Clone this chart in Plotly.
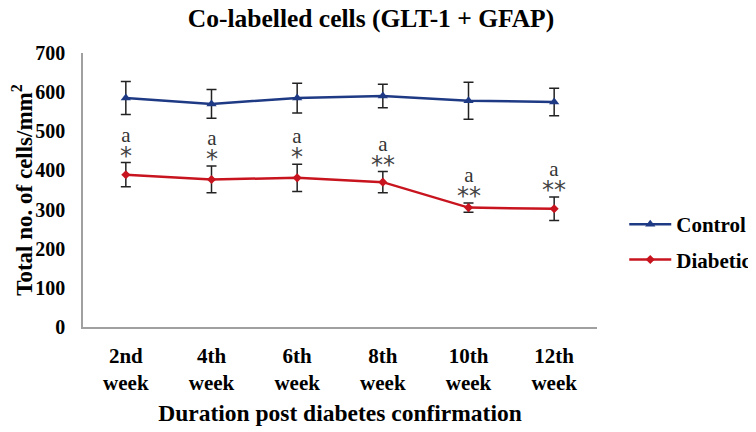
import plotly.graph_objects as go

weeks = ["2nd<br>week", "4th<br>week", "6th<br>week", "8th<br>week", "10th<br>week", "12th<br>week"]
control = [585, 570, 585, 590, 578, 575]
control_err = [42, 37, 38, 30, 47, 35]
diabetic = [389, 377, 381, 370, 305, 302]
diabetic_err = [31, 34, 35, 27, 12, 30]
sig_letters = ["a", "a", "a", "a", "a", "a"]
sig_stars = ["*", "*", "*", "**", "**", "**"]
y_ticks = [0, 100, 200, 300, 400, 500, 600, 700]

SERIF = "Liberation Serif"
BLUE = "#1F3A85"
RED = "#C8141E"
OFF = 8  # page body margin offset of the browser

fig = go.Figure()
fig.add_trace(go.Scatter(
    x=weeks, y=control, name="<b>Control</b>", mode="lines+markers",
    line=dict(color=BLUE, width=2.5),
    marker=dict(symbol="triangle-up", size=9, color=BLUE),
    error_y=dict(type="data", array=control_err, color="#222222", thickness=1.5, width=5),
    legendgroup="c",
))
fig.add_trace(go.Scatter(
    x=weeks, y=diabetic, name="<b>Diabetic</b>", mode="lines+markers",
    line=dict(color=RED, width=2.5),
    marker=dict(symbol="diamond", size=7, color=RED),
    error_y=dict(type="data", array=diabetic_err, color="#222222", thickness=1.5, width=5),
    legendgroup="d",
))

for xi, v, e, a, s in zip(weeks, diabetic, diabetic_err, sig_letters, sig_stars):
    top = v + e
    txt = ("<span style='font-family:Liberation Serif;font-size:21px;color:#333333'>%s</span><br>"
           "<span style='font-family:DejaVu Sans;font-size:24px;color:#444444'>%s</span>" % (a, s))
    fig.add_annotation(x=xi, y=top, text=txt, showarrow=False, yanchor="bottom",
                       yshift=-9, font=dict(family=SERIF, size=17, color="#333333"))

fig.update_layout(
    width=756, height=432,
    margin=dict(l=83 - OFF, r=159 + OFF, t=53 - OFF, b=105 + OFF, autoexpand=False),
    paper_bgcolor="white", plot_bgcolor="white",
    font=dict(family=SERIF, color="black"),
    title=dict(text="<b>Co-labelled cells (GLT-1 + GFAP)</b>", x=(371 - OFF) / 756, xref="container",
               xanchor="center", y=1 - (18 - OFF) / 432, yref="container", yanchor="middle",
               font=dict(family=SERIF, size=25.5, color="black")),
    showlegend=True,
    legend=dict(x=1.053, xanchor="left", y=0.31, yanchor="middle", itemwidth=42,
                font=dict(family=SERIF, size=21, color="black"),
                tracegroupgap=5, bgcolor="rgba(0,0,0,0)"),
    xaxis=dict(type="category", range=[-0.5, 5.5], showline=True, linecolor="#A0A0A0",
               linewidth=1.5, ticks="", showgrid=False, zeroline=False, automargin=False,
               tickvals=weeks, ticktext=["<b>%s</b>" % w for w in weeks],
               tickfont=dict(family=SERIF, size=21, color="black"),
               ticklabelstandoff=9,
               title=dict(text="<b>Duration post diabetes confirmation</b>",
                          font=dict(family=SERIF, size=23.5, color="black"), standoff=10)),
    yaxis=dict(range=[0, 700], showline=True, linecolor="#A0A0A0",
               linewidth=1.5, ticks="", showgrid=False, zeroline=False, automargin=False,
               tickvals=y_ticks, ticktext=["<b>%d</b>" % v for v in y_ticks],
               tickfont=dict(family=SERIF, size=20, color="black"),
               ticklabelstandoff=12,
               title=dict(text="<b>Total no. of cells/mm<sup>2</sup></b>",
                          font=dict(family=SERIF, size=23, color="black"), standoff=12)),
)

fig.write_html("out.html")
